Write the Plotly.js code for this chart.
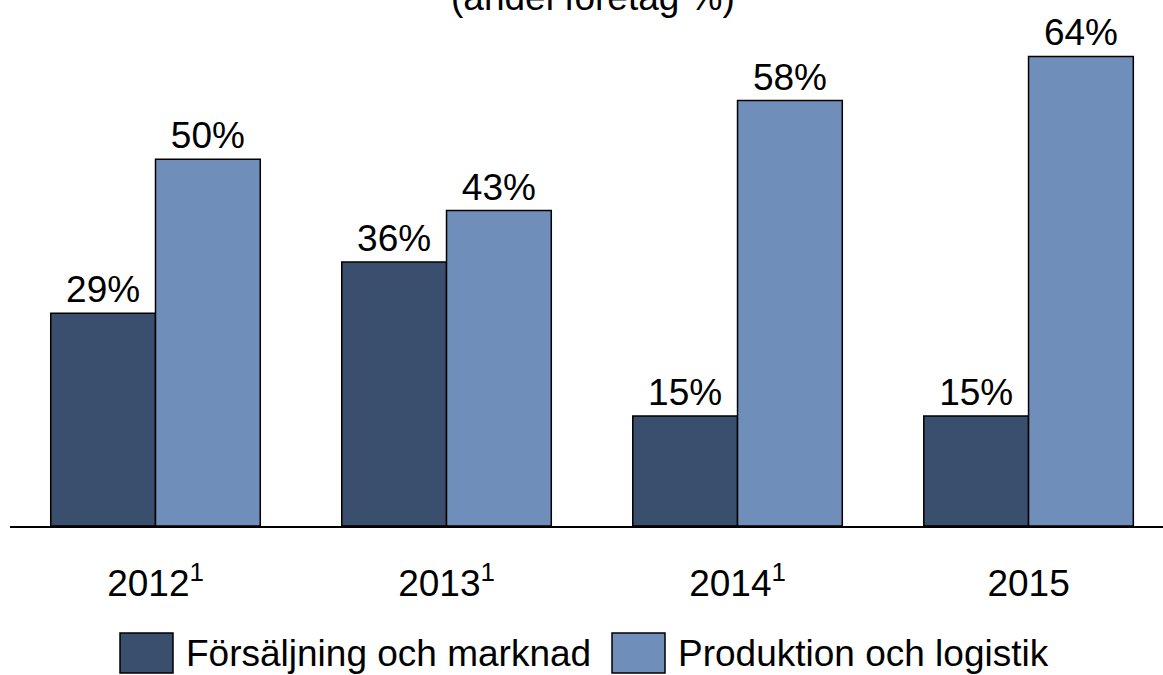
<!DOCTYPE html>
<html>
<head>
<meta charset="utf-8">
<script src="https://cdn.plot.ly/plotly-3.0.1.min.js"></script>
<style>
  html, body { margin: 0; padding: 0; background: white; }
  #chart { width: 1163px; height: 675px; }
</style>
</head>
<body>
<div id="chart"></div>
<script>
var years = ['2012', '2013', '2014', '2015'];
var tickLabels = ['2012<sup>1</sup>', '2013<sup>1</sup>', '2014<sup>1</sup>', '2015'];
var seriesNames = ['Försäljning och marknad', 'Produktion och logistik'];
var salesValues = [29, 36, 15, 15];
var productionValues = [50, 43, 58, 64];
var seriesColors = ['#3A4E6E', '#6F8EBA'];
var subtitle = '(andel företag %)';

var font = 'Liberation Sans, Arial, sans-serif';
var fontSize = 37;

function makeTrace(values, i) {
  return {
    type: 'bar',
    x: years,
    y: values,
    name: seriesNames[i],
    marker: {color: seriesColors[i], line: {color: '#000', width: 1.5}},
    text: values.map(function(v) { return v + '%'; }),
    textposition: 'outside',
    textfont: {family: font, size: fontSize, color: '#000'},
    cliponaxis: false,
    hoverinfo: 'skip'
  };
}

var traces = [makeTrace(salesValues, 0), makeTrace(productionValues, 1)];

// plot area in pixels: x 10..1163, y 0..526
function px(x) { return (x - 10) / 1153; }
function py(y) { return (526 - y) / 526; }

// legend drawn by hand so the swatches can be big boxes
var shapes = [];
var annotations = [{
  text: subtitle, xref: 'paper', yref: 'paper', x: px(593), y: 1,
  xanchor: 'center', yanchor: 'bottom', yshift: -20, showarrow: false,
  font: {family: font, size: fontSize, color: '#000'}
}];
var legendX = [120, 612];
seriesNames.forEach(function(name, i) {
  shapes.push({
    type: 'rect', xref: 'paper', yref: 'paper',
    x0: px(legendX[i]), x1: px(legendX[i] + 53),
    y0: py(633), y1: py(673),
    fillcolor: seriesColors[i], line: {color: '#000', width: 1.5}
  });
  annotations.push({
    text: name, xref: 'paper', yref: 'paper',
    x: px(legendX[i] + 64), y: py(653),
    xanchor: 'left', yanchor: 'middle', showarrow: false,
    font: {family: font, size: fontSize, color: '#000'}
  });
});

var layout = {
  width: 1163,
  height: 675,
  margin: {l: 10, r: 0, t: 0, b: 149},
  paper_bgcolor: 'white',
  plot_bgcolor: 'white',
  barmode: 'group',
  bargap: 0.28,
  bargroupgap: 0,
  showlegend: false,
  xaxis: {
    type: 'category',
    range: [-0.5, 3.462],
    tickvals: years,
    ticktext: tickLabels,
    showline: true,
    linecolor: '#000',
    linewidth: 2,
    showgrid: false,
    zeroline: false,
    ticks: 'outside',
    ticklen: 24,
    tickcolor: 'rgba(0,0,0,0)',
    tickfont: {family: font, size: fontSize, color: '#000'}
  },
  yaxis: {
    range: [0, 71.7],
    visible: false,
    showgrid: false,
    zeroline: false
  },
  shapes: shapes,
  annotations: annotations
};

Plotly.newPlot('chart', traces, layout, {displayModeBar: false, staticPlot: true});
</script>
</body>
</html>
